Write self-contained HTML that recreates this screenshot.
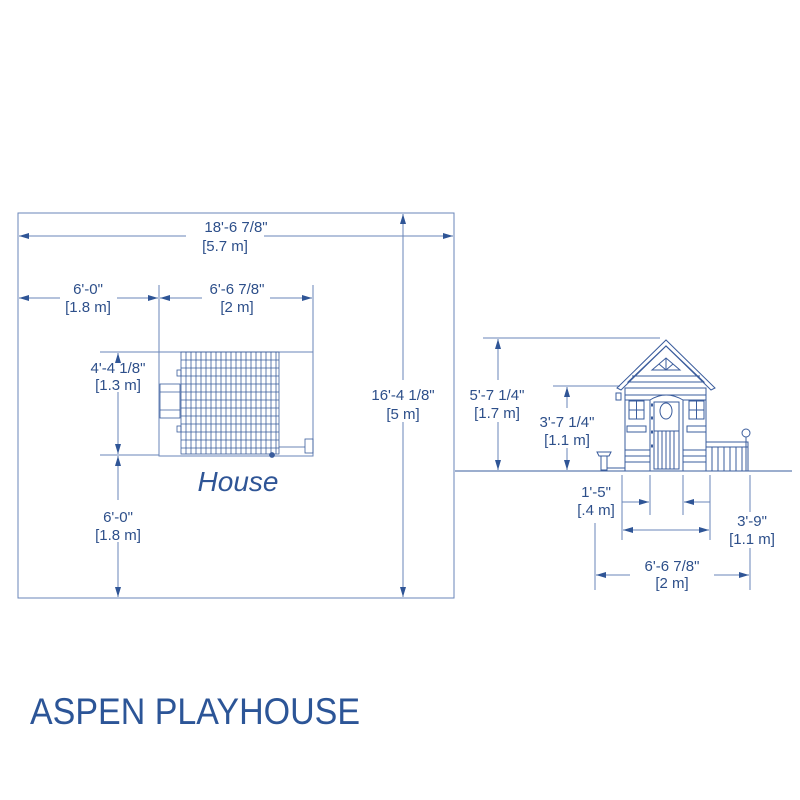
<!DOCTYPE html>
<html><head><meta charset="utf-8"><style>
html,body{margin:0;padding:0;background:#fff;width:800px;height:800px;overflow:hidden}
svg{display:block}
text{font-family:"Liberation Sans",sans-serif;fill:#2d4f8a;font-size:15px;text-anchor:middle}
</style></head><body>
<svg width="800" height="800" viewBox="0 0 800 800" xmlns="http://www.w3.org/2000/svg">
<defs>
<marker id="a" viewBox="0 0 10 6" refX="10" refY="3" markerWidth="10" markerHeight="6" orient="auto-start-reverse" markerUnits="userSpaceOnUse"><path d="M0,0 L10,3 L0,6 z" fill="#2f5596"/></marker>
</defs>
<g stroke="#6a86b8" stroke-width="1" fill="none">
<rect x="18" y="213" width="436" height="385"/>
<line x1="19" y1="236" x2="186" y2="236" marker-start="url(#a)"/>
<line x1="264" y1="236" x2="453" y2="236" marker-end="url(#a)"/>
<line x1="19" y1="298" x2="60" y2="298" marker-start="url(#a)"/>
<line x1="117" y1="298" x2="158" y2="298" marker-end="url(#a)"/>
<line x1="160" y1="298" x2="202" y2="298" marker-start="url(#a)"/>
<line x1="270" y1="298" x2="312" y2="298" marker-end="url(#a)"/>
<line x1="159" y1="285" x2="159" y2="352"/>
<line x1="313" y1="285" x2="313" y2="352"/>
<line x1="403" y1="214" x2="403" y2="380" marker-start="url(#a)"/>
<line x1="403" y1="422" x2="403" y2="597" marker-end="url(#a)"/>
<line x1="100" y1="352" x2="313" y2="352"/>
<line x1="100" y1="455" x2="159" y2="455"/>
<line x1="118" y1="353" x2="118" y2="362" marker-start="url(#a)"/>
<line x1="118" y1="392" x2="118" y2="454" marker-end="url(#a)"/>
<line x1="118" y1="456" x2="118" y2="500" marker-start="url(#a)"/>
<line x1="118" y1="542" x2="118" y2="597" marker-end="url(#a)"/>
<rect x="159" y="352" width="154" height="104"/>
</g>
<g stroke="#3a5c9c" stroke-width="0.8" fill="none">
<rect x="181" y="352" width="98" height="102"/>
<path d="M186 352V454M191 352V454M196 352V454M201 352V454M206 352V454M211 352V454M216 352V454M221 352V454M226 352V454M231 352V454M236 352V454M241 352V454M246 352V454M251 352V454M256 352V454M261 352V454M266 352V454M271 352V454M276 352V454"/>
<path d="M181 360H279M181 368H279M181 376H279M181 384H279M181 392H279M181 400H279M181 408H279M181 416H279M181 424H279M181 432H279M181 440H279M181 448H279"/>
<rect x="160" y="384" width="20" height="34"/>
<line x1="160" y1="392" x2="180" y2="392"/><line x1="160" y1="410" x2="180" y2="410"/>
<rect x="177" y="370" width="4" height="6"/><rect x="177" y="426" width="4" height="6"/>
<line x1="279" y1="447" x2="305" y2="447"/>
<rect x="305" y="439" width="8" height="14"/>
<circle cx="272" cy="455" r="2.5" fill="#3a5c9c"/>
</g>
<text x="238" y="491" style="font-size:28px;font-style:italic;fill:#2f5596">House</text>
<text x="236" y="232">18'-6 7/8"</text>
<text x="225" y="251">[5.7 m]</text>
<text x="88" y="294">6'-0"</text>
<text x="88" y="312">[1.8 m]</text>
<text x="237" y="294">6'-6 7/8"</text>
<text x="237" y="312">[2 m]</text>
<text x="403" y="400">16'-4 1/8"</text>
<text x="403" y="419">[5 m]</text>
<text x="118" y="373">4'-4 1/8"</text>
<text x="118" y="390">[1.3 m]</text>
<text x="118" y="522">6'-0"</text>
<text x="118" y="540">[1.8 m]</text>

<g stroke="#6a86b8" stroke-width="1" fill="none">
<line x1="455" y1="471" x2="792" y2="471" stroke="#3a5c9c"/>
<line x1="483" y1="338" x2="660" y2="338"/>
<line x1="553" y1="386" x2="620" y2="386"/>
<line x1="498" y1="339" x2="498" y2="380" marker-start="url(#a)"/>
<line x1="498" y1="422" x2="498" y2="470" marker-end="url(#a)"/>
<line x1="567" y1="387" x2="567" y2="408" marker-start="url(#a)"/>
<line x1="567" y1="448" x2="567" y2="470" marker-end="url(#a)"/>
<line x1="595" y1="523" x2="595" y2="590"/>
<line x1="622" y1="475" x2="622" y2="540"/>
<line x1="650" y1="475" x2="650" y2="515"/>
<line x1="683" y1="475" x2="683" y2="515"/>
<line x1="710" y1="475" x2="710" y2="540"/>
<line x1="750" y1="475" x2="750" y2="512"/>
<line x1="750" y1="548" x2="750" y2="590"/>
<line x1="622" y1="502" x2="649" y2="502" marker-end="url(#a)"/>
<line x1="710" y1="502" x2="684" y2="502" marker-end="url(#a)"/>
<line x1="623" y1="530" x2="709" y2="530" marker-start="url(#a)" marker-end="url(#a)"/>
<line x1="596" y1="575" x2="630" y2="575" marker-start="url(#a)"/>
<line x1="714" y1="575" x2="749" y2="575" marker-end="url(#a)"/>
</g>
<g stroke="#3a5c9c" stroke-width="1" fill="none">
<path d="M617 388 L666 340 L715 388 L711 390 L666 346 L621 390 Z"/>
<path d="M628 382 L666 346 L704 382 Z"/>
<path d="M652 370 L666 358 L680 370 Z M666 358 V370 M659 364 L666 370 L673 364"/>
<line x1="632" y1="376" x2="700" y2="376"/>
<rect x="625" y="388" width="81" height="83"/>
<path d="M625 395H706M625 400H650M683 400H706M625 450H650M683 450H706M625 456H650M683 456H706M625 462H650M683 462H706"/>
<path d="M650 471V400Q666 390 683 400V471"/>
<rect x="654" y="402" width="25" height="67"/>
<ellipse cx="666" cy="411" rx="6" ry="8"/>
<path d="M654 431H679M658 431V469M662 431V469M666 431V469M670 431V469M674 431V469"/>
<rect x="629" y="401" width="15" height="18"/><line x1="636.5" y1="401" x2="636.5" y2="419"/><line x1="629" y1="410" x2="644" y2="410"/>
<rect x="689" y="401" width="15" height="18"/><line x1="696.5" y1="401" x2="696.5" y2="419"/><line x1="689" y1="410" x2="704" y2="410"/>
<rect x="627" y="426" width="19" height="6"/><rect x="687" y="426" width="19" height="6"/>
<rect x="616" y="393" width="5" height="7"/>
<rect x="706" y="442" width="42" height="29"/>
<path d="M706 447H748M712 447V471M718 447V471M724 447V471M730 447V471M736 447V471M742 447V471"/>
<circle cx="746" cy="433" r="4"/><line x1="746" y1="437" x2="746" y2="471"/>
<path d="M597 452H611L609 456H599Z M601 456V470H607V456"/>
<line x1="607" y1="468" x2="625" y2="468"/>
<path d="M651 405H653M651 418H653M651 432H653M651 446H653" stroke-width="3"/>
</g>
<text x="497" y="400">5'-7 1/4"</text>
<text x="497" y="418">[1.7 m]</text>
<text x="567" y="427">3'-7 1/4"</text>
<text x="567" y="445">[1.1 m]</text>
<text x="596" y="497">1'-5"</text>
<text x="596" y="515">[.4 m]</text>
<text x="752" y="526">3'-9"</text>
<text x="752" y="544">[1.1 m]</text>
<text x="672" y="571">6'-6 7/8"</text>
<text x="672" y="588">[2 m]</text>

<text x="30" y="724" textLength="330" lengthAdjust="spacingAndGlyphs" style="font-size:37px;text-anchor:start;fill:#2c5597">ASPEN PLAYHOUSE</text>
</svg>
</body></html>
